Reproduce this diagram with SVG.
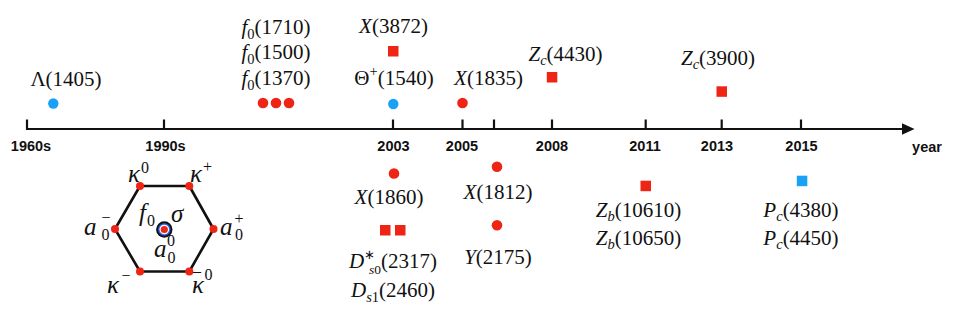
<svg xmlns="http://www.w3.org/2000/svg" width="958" height="324" viewBox="0 0 958 324">
<style>
.m{font-family:"Liberation Serif","Times New Roman",serif;font-size:21px;fill:#111}
.h{font-family:"Liberation Serif","Times New Roman",serif;font-size:25px;fill:#111;font-style:italic}
.i{font-style:italic}
.sm{font-size:14.5px}
.hs{font-size:16px;font-style:normal}
.yr{font-family:"Liberation Sans",Arial,sans-serif;font-size:14.5px;font-weight:bold;fill:#111;text-anchor:middle}
.red{fill:#ee2414}
.blue{fill:#19a2f5}
.tick{stroke:#111;stroke-width:2.2}
</style>
<rect width="958" height="324" fill="#fff"/>

<g id="axis">
  <line x1="26" y1="129" x2="904" y2="129" stroke="#111" stroke-width="2.2"/>
  <polygon points="902,123.3 914.5,129 902,134.7" fill="#111"/>
  <line class="tick" x1="27" y1="119.5" x2="27" y2="129"/>
  <line class="tick" x1="164" y1="119.5" x2="164" y2="129"/>
  <line class="tick" x1="393" y1="119.5" x2="393" y2="129"/>
  <line class="tick" x1="462.5" y1="119.5" x2="462.5" y2="129"/>
  <line class="tick" x1="494" y1="119.5" x2="494" y2="129"/>
  <line class="tick" x1="552" y1="119.5" x2="552" y2="129"/>
  <line class="tick" x1="645.7" y1="119.5" x2="645.7" y2="129"/>
  <line class="tick" x1="721.7" y1="119.5" x2="721.7" y2="129"/>
  <line class="tick" x1="801" y1="119.5" x2="801" y2="129"/>
  <text class="yr" x="31" y="151">1960s</text>
  <text class="yr" x="165.5" y="151">1990s</text>
  <text class="yr" x="393.5" y="151">2003</text>
  <text class="yr" x="462" y="151">2005</text>
  <text class="yr" x="552" y="151">2008</text>
  <text class="yr" x="645" y="151">2011</text>
  <text class="yr" x="717" y="151">2013</text>
  <text class="yr" x="801.5" y="151">2015</text>
  <text class="yr" x="927" y="151.5">year</text>
</g>

<g id="lambda1405">
  <circle class="blue" cx="53.3" cy="103.5" r="5.2"/>
  <text class="m" x="66" y="86" text-anchor="middle">Λ(1405)</text>
</g>

<g id="f0-states">
  <circle class="red" cx="263" cy="103" r="5.3"/>
  <circle class="red" cx="276" cy="103" r="5.3"/>
  <circle class="red" cx="289" cy="103" r="5.3"/>
  <text class="m" x="276" y="33.5" text-anchor="middle"><tspan class="i">f</tspan><tspan class="sm" dy="5">0</tspan><tspan dy="-5">(1710)</tspan></text>
  <text class="m" x="276" y="59" text-anchor="middle"><tspan class="i">f</tspan><tspan class="sm" dy="5">0</tspan><tspan dy="-5">(1500)</tspan></text>
  <text class="m" x="276" y="84.5" text-anchor="middle"><tspan class="i">f</tspan><tspan class="sm" dy="5">0</tspan><tspan dy="-5">(1370)</tspan></text>
</g>

<g id="x3872">
  <rect class="red" x="388" y="46" width="10.5" height="10.5"/>
  <text class="m" x="393.5" y="33" text-anchor="middle"><tspan class="i">X</tspan>(3872)</text>
</g>

<g id="theta1540">
  <circle class="blue" cx="393.3" cy="104" r="5.2"/>
  <text class="m" x="394" y="84.5" text-anchor="middle">Θ<tspan class="sm" dy="-9">+</tspan><tspan dy="9">(1540)</tspan></text>
</g>

<g id="x1835">
  <circle class="red" cx="462.5" cy="103" r="5.3"/>
  <text class="m" x="488.5" y="84.5" text-anchor="middle"><tspan class="i">X</tspan>(1835)</text>
</g>

<g id="zc4430">
  <rect class="red" x="546.8" y="72" width="10.5" height="10.5"/>
  <text class="m" x="565.5" y="61" text-anchor="middle"><tspan class="i">Z</tspan><tspan class="sm i" dy="4">c</tspan><tspan dy="-4">(4430)</tspan></text>
</g>

<g id="zc3900">
  <rect class="red" x="716.5" y="86.3" width="10.5" height="10.5"/>
  <text class="m" x="718" y="65" text-anchor="middle"><tspan class="i">Z</tspan><tspan class="sm i" dy="4">c</tspan><tspan dy="-4">(3900)</tspan></text>
</g>

<g id="x1860">
  <circle class="red" cx="394" cy="173.5" r="5.3"/>
  <text class="m" x="389" y="204" text-anchor="middle"><tspan class="i">X</tspan>(1860)</text>
</g>

<g id="ds-states">
  <rect class="red" x="380" y="225" width="10.5" height="10.5"/>
  <rect class="red" x="395" y="225" width="10.5" height="10.5"/>
  <text class="m" x="393" y="268" text-anchor="middle"><tspan class="i">D</tspan><tspan font-size="12.5" dy="-9.5">∗</tspan><tspan font-size="13.5" dx="-6.3" dy="15"><tspan class="i">s</tspan>0</tspan><tspan dy="-5.5">(2317)</tspan></text>
  <text class="m" x="393" y="297" text-anchor="middle"><tspan class="i">D</tspan><tspan class="sm" dy="5"><tspan class="i">s</tspan>1</tspan><tspan dy="-5">(2460)</tspan></text>
</g>

<g id="x1812">
  <circle class="red" cx="497" cy="166.7" r="5.3"/>
  <text class="m" x="498" y="199" text-anchor="middle"><tspan class="i">X</tspan>(1812)</text>
</g>

<g id="y2175">
  <circle class="red" cx="497" cy="225.3" r="5.3"/>
  <text class="m" x="498" y="264" text-anchor="middle"><tspan class="i">Y</tspan>(2175)</text>
</g>

<g id="zb-states">
  <rect class="red" x="640.5" y="180.7" width="10.5" height="10.5"/>
  <text class="m" x="638.5" y="216.5" text-anchor="middle"><tspan class="i">Z</tspan><tspan class="sm i" dy="4">b</tspan><tspan dy="-4">(10610)</tspan></text>
  <text class="m" x="638.5" y="245" text-anchor="middle"><tspan class="i">Z</tspan><tspan class="sm i" dy="4">b</tspan><tspan dy="-4">(10650)</tspan></text>
</g>

<g id="pc-states">
  <rect class="blue" x="796.8" y="175.7" width="10.5" height="10.5"/>
  <text class="m" x="801" y="216.5" text-anchor="middle"><tspan class="i">P</tspan><tspan class="sm i" dy="4">c</tspan><tspan dy="-4">(4380)</tspan></text>
  <text class="m" x="801" y="245" text-anchor="middle"><tspan class="i">P</tspan><tspan class="sm i" dy="4">c</tspan><tspan dy="-4">(4450)</tspan></text>
</g>

<g id="nonet">
  <polygon points="140,186 189.3,186 213.5,229 189.3,271.5 140,271.5 115,229" fill="none" stroke="#111" stroke-width="2.6" stroke-linejoin="round"/>
  <circle class="red" cx="140" cy="186" r="4"/>
  <circle class="red" cx="189.3" cy="186" r="4"/>
  <circle class="red" cx="213.5" cy="229" r="4"/>
  <circle class="red" cx="189.3" cy="271.5" r="4"/>
  <circle class="red" cx="140" cy="271.5" r="4"/>
  <circle class="red" cx="115" cy="229" r="4"/>
  <circle cx="164.3" cy="229.5" r="8.2" fill="#111"/>
  <circle cx="164.3" cy="229.5" r="6.2" fill="#2a5fe8"/>
  <circle cx="164.3" cy="229.5" r="4.8" fill="#fff"/>
  <circle class="red" cx="164.3" cy="229.5" r="3.6"/>
  <text class="h" x="128" y="182">κ<tspan class="hs" dx="1" dy="-9">0</tspan></text>
  <text class="h" x="190" y="182">κ<tspan class="hs" dx="1" dy="-10">+</tspan></text>
  <text class="h" x="84" y="235">a<tspan class="hs" dx="5" dy="-12">−</tspan><tspan class="hs" dx="-9" dy="17">0</tspan></text>
  <text class="h" x="220" y="235">a<tspan class="hs" dx="2" dy="-11">+</tspan><tspan class="hs" dx="-8.5" dy="16">0</tspan></text>
  <text class="h" x="139" y="221">f<tspan class="hs" dx="1" dy="5">0</tspan></text>
  <text class="h" x="171" y="221.5">σ</text>
  <text class="h" x="154" y="256.5">a<tspan class="hs" font-size="15" dx="0.5" dy="-10.5">0</tspan><tspan class="hs" font-size="15" dx="-7.5" dy="17">0</tspan></text>
  <text class="h" x="107" y="292.5">κ<tspan class="hs" dx="2.5" dy="-11.5">−</tspan></text>
  <text class="h" x="192" y="292.5">κ<tspan class="hs" dx="0.5" dy="-12.5">0</tspan></text>
  <text x="193" y="284.5" font-family="Liberation Serif, serif" font-size="16" fill="#111">¯</text>
</g>
</svg>
